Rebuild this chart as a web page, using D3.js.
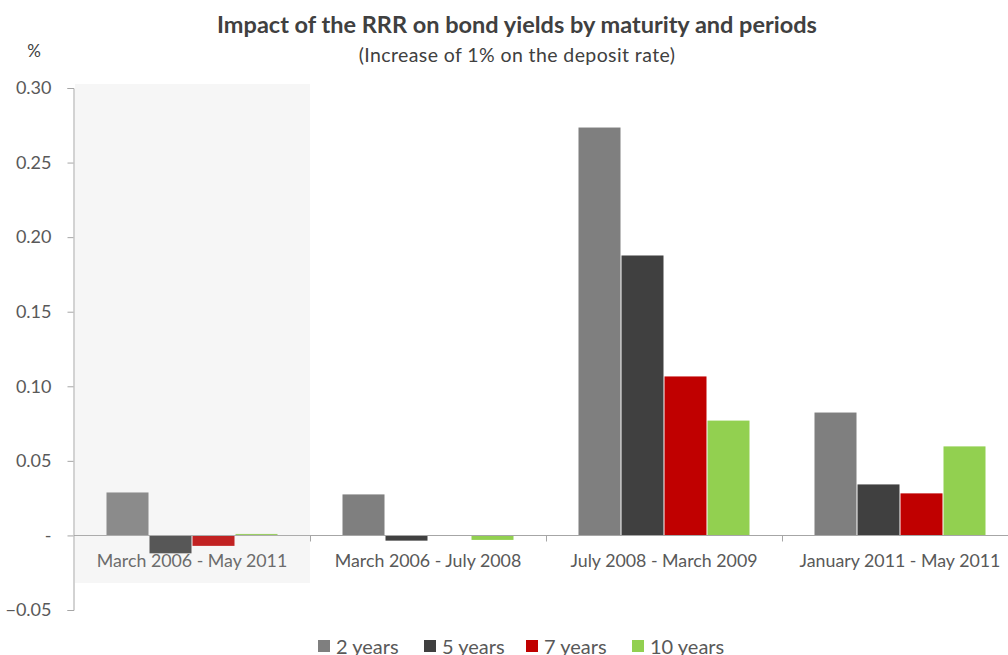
<!DOCTYPE html>
<html>
<head>
<meta charset="utf-8">
<script src="https://cdn.jsdelivr.net/npm/d3@7"></script>
<style>
  html, body { margin: 0; padding: 0; background: #fff; }
  svg { display: block; }
  text { font-family: Lato, "Open Sans", sans-serif; }
</style>
</head>
<body>
<svg id="chart" width="1008" height="655"></svg>
<script>
// Periods on the x axis
const periods = [
  "March 2006 - May 2011",
  "March 2006 - July 2008",
  "July 2008 - March 2009",
  "January 2011 - May 2011"
];
// Maturities (series)
const maturities = ["2 years", "5 years", "7 years", "10 years"];
const colors = ["#7f7f7f", "#404040", "#c00000", "#92d050"];

// Impact on yields (%) per maturity, one value per period
const twoYears  = [0.0288, 0.0275, 0.2735, 0.0824];
const fiveYears = [-0.0120, -0.0035, 0.1877, 0.0342];
const sevenYears = [-0.0070, 0.0000, 0.1066, 0.0282];
const tenYears  = [0.0010, -0.0030, 0.0770, 0.0597];
const seriesValues = [twoYears, fiveYears, sevenYears, tenYears];

const yTicks = [-0.05, 0, 0.05, 0.10, 0.15, 0.20, 0.25, 0.30];

const svg = d3.select("#chart");
const W = 1008, H = 655;

const x = d3.scaleBand().domain(periods).range([74, 1018]).padding(0);
const xInner = d3.scaleBand().domain(maturities)
  .range([32, x.bandwidth() - 32]).padding(0);
const y = d3.scaleLinear().domain([-0.05, 0.30]).range([610, 88]);

const axisColor = "#a6a6a6";
const labelColor = "#595959";

// Titles
svg.append("text")
  .attr("x", 517).attr("y", 33)
  .attr("text-anchor", "middle")
  .attr("font-size", 23.5).attr("font-weight", "bold")
  .attr("fill", "#404040")
  .text("Impact of the RRR on bond yields by maturity and periods");
svg.append("text")
  .attr("x", 517).attr("y", 62)
  .attr("text-anchor", "middle")
  .attr("font-size", 19.5)
  .attr("letter-spacing", 0.4)
  .attr("fill", "#404040")
  .text("(Increase of 1% on the deposit rate)");
svg.append("text")
  .attr("x", 34).attr("y", 57)
  .attr("text-anchor", "middle")
  .attr("font-size", 17)
  .attr("fill", "#404040")
  .text("%");

// Bars
const rows = periods.map((p, i) => ({
  period: p,
  values: maturities.map((m, j) => ({ m, v: seriesValues[j][i], c: colors[j] }))
}));

const groups = svg.append("g").selectAll("g")
  .data(rows).join("g")
  .attr("transform", d => `translate(${x(d.period)},0)`);

groups.selectAll("rect")
  .data(d => d.values).join("rect")
  .attr("x", d => xInner(d.m) + 0.5)
  .attr("width", xInner.bandwidth() - 1)
  .attr("y", d => y(Math.max(0, d.v)))
  .attr("height", d => Math.abs(y(d.v) - y(0)))
  .attr("fill", d => d.c);

// Y axis
const yAxis = d3.axisLeft(y)
  .tickValues(yTicks)
  .tickSize(6)
  .tickPadding(16)
  .tickFormat(d => d === 0 ? "-" : d3.format(".2f")(d));
const gy = svg.append("g")
  .attr("transform", "translate(73.5,0)")
  .call(yAxis);
gy.select(".domain").attr("stroke", axisColor);
gy.selectAll(".tick line").attr("stroke", axisColor);
gy.selectAll(".tick text")
  .attr("font-size", 18)
  .attr("fill", labelColor)
  .attr("font-family", "Lato, sans-serif");

// Zero baseline with category separators
const baseY = Math.round(y(0)) + 0.5;
svg.append("line")
  .attr("x1", 74).attr("x2", W)
  .attr("y1", baseY).attr("y2", baseY)
  .attr("stroke", axisColor);
const separators = periods.slice(1).map(p => x(p));
svg.append("g").selectAll("line")
  .data(separators).join("line")
  .attr("x1", d => Math.round(d) + 0.5).attr("x2", d => Math.round(d) + 0.5)
  .attr("y1", baseY).attr("y2", baseY + 6)
  .attr("stroke", axisColor);

// Category labels
svg.append("g").selectAll("text")
  .data(periods).join("text")
  .attr("x", d => x(d) + x.bandwidth() / 2)
  .attr("y", 567)
  .attr("text-anchor", "middle")
  .attr("font-size", 17.8)
  .attr("fill", labelColor)
  .text(d => d);

// Highlighted full-period panel
svg.append("rect")
  .attr("x", 75).attr("y", 84)
  .attr("width", x.bandwidth() - 1)
  .attr("height", 583 - 84)
  .attr("fill", "rgb(200,200,200)")
  .attr("fill-opacity", 0.17);

// Legend
const legendX = [318, 424, 526, 632];
const legend = svg.append("g").selectAll("g")
  .data(maturities).join("g")
  .attr("transform", (d, i) => `translate(${legendX[i]},640)`);
legend.append("rect")
  .attr("width", 12).attr("height", 12)
  .attr("fill", (d, i) => colors[i]);
legend.append("text")
  .attr("x", 18).attr("y", 14)
  .attr("font-size", 20)
  .attr("fill", labelColor)
  .text(d => d);
</script>
</body>
</html>
